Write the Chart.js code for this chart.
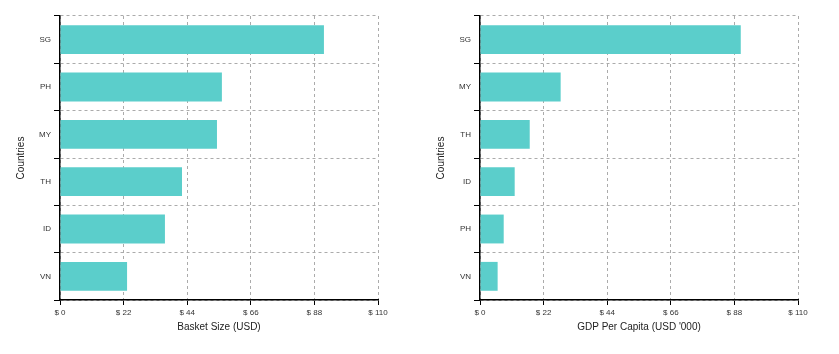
<!DOCTYPE html>
<html>
<head>
<meta charset="utf-8">
<script src="https://cdn.jsdelivr.net/npm/chart.js@4/dist/chart.umd.min.js"></script>
<style>
  html, body { margin: 0; padding: 0; background: #fff; }
  .wrap { position: absolute; top: 0; width: 420px; height: 354px; }
  #w1 { left: 0; }
  #w2 { left: 420px; }
</style>
</head>
<body>
<div class="wrap" id="w1"><canvas id="basketChart"></canvas></div>
<div class="wrap" id="w2"><canvas id="gdpChart"></canvas></div>
<script>
// Basket size per country (USD)
const basketCountries = ["SG", "PH", "MY", "TH", "ID", "VN"];
const basketValues = [91.3, 56.0, 54.3, 42.2, 36.3, 23.2];

// GDP per capita per country (USD '000)
const gdpCountries = ["SG", "MY", "TH", "ID", "PH", "VN"];
const gdpValues = [90.2, 27.9, 17.2, 12.0, 8.2, 6.1];

const xTicks = [0, 22, 44, 66, 88, 110];

const barColor = "#5bcecb";
const gridColor = "#ababab";
const fontFamily = "'Liberation Sans', Arial, Helvetica, sans-serif";

function makeChart(canvasId, labels, values, xTitle) {
  return new Chart(document.getElementById(canvasId), {
    type: "bar",
    data: {
      labels: labels,
      datasets: [{
        data: values,
        backgroundColor: barColor,
        borderWidth: 0,
        barPercentage: 0.61,
        categoryPercentage: 1
      }]
    },
    options: {
      indexAxis: "y",
      responsive: true,
      maintainAspectRatio: false,
      animation: false,
      events: [],
      layout: { padding: { top: 16, right: 42, bottom: 14, left: 0 } },
      plugins: { legend: { display: false }, tooltip: { enabled: false } },
      scales: {
        x: {
          min: xTicks[0],
          max: xTicks[xTicks.length - 1],
          afterBuildTicks: scale => { scale.ticks = xTicks.map(v => ({ value: v })); },
          afterFit: scale => { scale.height = 40; },
          ticks: {
            color: "#333",
            font: { family: fontFamily, size: 8 },
            padding: 3,
            maxRotation: 0,
            callback: v => "$ " + v
          },
          grid: {
            color: gridColor,
            tickColor: "#000",
            tickLength: 5,
            tickBorderDash: []
          },
          border: { display: true, color: "#000", width: 1.5, dash: [3, 3] },
          title: {
            display: true,
            text: xTitle,
            color: "#222",
            font: { family: fontFamily, size: 10 },
            padding: { top: 0, bottom: 7 }
          }
        },
        y: {
          afterFit: scale => { scale.width = 60; },
          ticks: {
            color: "#333",
            font: { family: fontFamily, size: 8 },
            padding: 3
          },
          grid: {
            color: gridColor,
            offset: true,
            tickColor: "#000",
            tickLength: 6,
            tickBorderDash: []
          },
          border: { display: true, color: "#000", width: 1.5, dash: [3, 3] },
          title: {
            display: true,
            text: "Countries",
            color: "#222",
            font: { family: fontFamily, size: 10 },
            padding: { top: 15, bottom: 0 }
          }
        }
      }
    }
  });
}

makeChart("basketChart", basketCountries, basketValues, "Basket Size (USD)");
makeChart("gdpChart", gdpCountries, gdpValues, "GDP Per Capita (USD '000)");
</script>
</body>
</html>
